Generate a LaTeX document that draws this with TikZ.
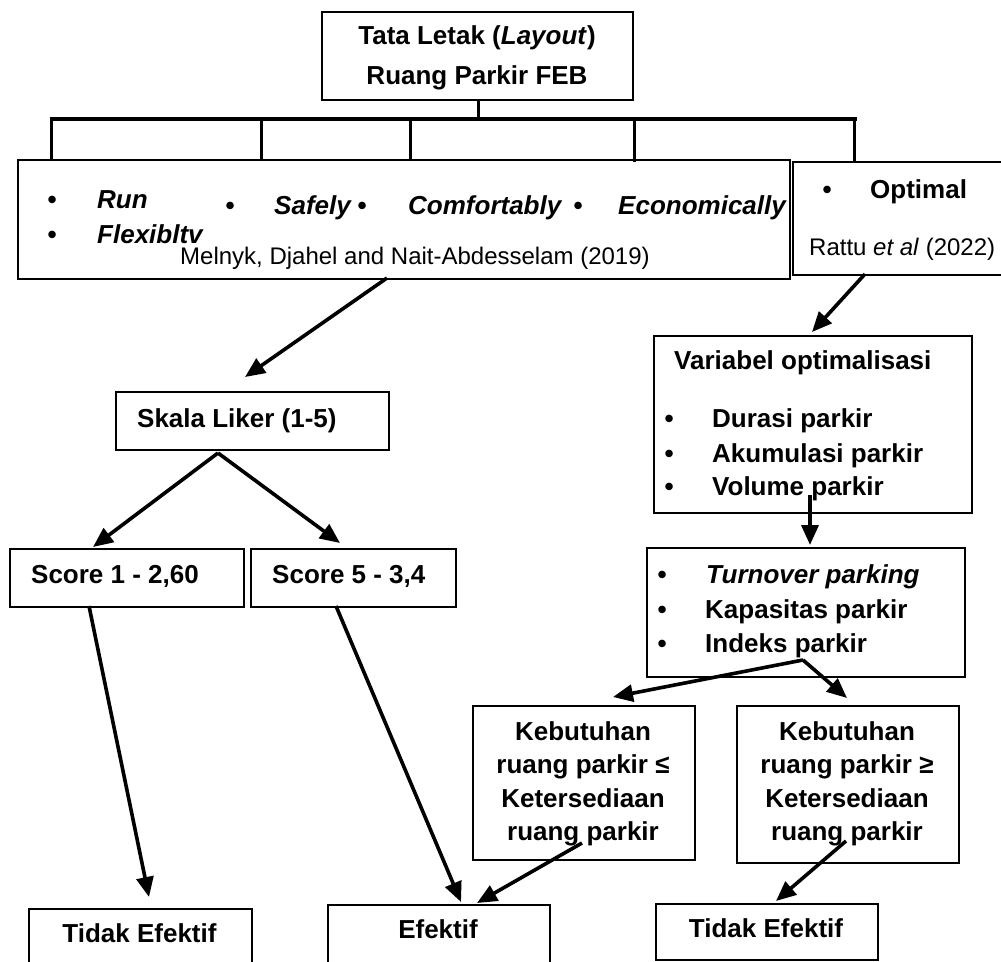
\documentclass[tikz,border=0pt]{standalone}
\usepackage{fontspec}
\setmainfont{Liberation Sans}
\usetikzlibrary{arrows.meta}
\newcommand\Bfnt{\fontsize{26}{30}\selectfont\bfseries}
\newcommand\Rfnt{\fontsize{24}{28}\selectfont}
\begin{document}
\begin{tikzpicture}[x=1pt,y=-1pt,
  box/.style={draw, line width=1.8pt, inner sep=0pt, anchor=north west},
  bt/.style={inner sep=0pt, anchor=base west, font=\Bfnt},
  bc/.style={inner sep=0pt, anchor=base, font=\Bfnt},
  rt/.style={inner sep=0pt, anchor=base west, font=\Rfnt},
  arr/.style={line width=3.6pt, -{Triangle[length=20pt,width=17pt]}},
  tick/.style={line width=3pt},
]
\useasboundingbox (0,0) rectangle (1001,961);
\clip (0,0) rectangle (1001,961);

% boxes
\node[box, minimum width=311pt, minimum height=88pt] (top) at (321,11) {};
\node[box, minimum width=772pt, minimum height=119pt] (big) at (17,159) {};
\node[box, minimum width=215pt, minimum height=113pt] (opt) at (792,161) {};
\node[box, minimum width=273pt, minimum height=58pt] (skala) at (115,391) {};
\node[box, minimum width=234pt, minimum height=58pt] (sa) at (9,548) {};
\node[box, minimum width=205pt, minimum height=58pt] (sb) at (250,548) {};
\node[box, minimum width=318pt, minimum height=177pt] (var) at (653,335) {};
\node[box, minimum width=318pt, minimum height=129pt] (turn) at (646,547) {};
\node[box, minimum width=222pt, minimum height=154pt] (kba) at (472,705) {};
\node[box, minimum width=222pt, minimum height=157pt] (kbb) at (736,705) {};
\node[box, minimum width=223pt, minimum height=70pt] (tea) at (28,908) {};
\node[box, minimum width=222pt, minimum height=70pt] (ef) at (327,904) {};
\node[box, minimum width=222pt, minimum height=56pt] (teb) at (655,903) {};

% top texts
\node[bc] (t1) at (477,44) {Tata Letak (\textit{Layout})};
\node[bc] (t2) at (477,84) {Ruang Parkir FEB};

% tree bar
\coordinate (stemtop) at (478,99);
\coordinate (stembot) at (478,119);
\coordinate (barL) at (49.5,119);
\coordinate (barR) at (856.5,119);
\draw[tick] (stemtop) -- (stembot);
\draw[line width=4.5pt] (barL) -- (barR);
\coordinate (ka) at (51,119);
\coordinate (kb) at (261,119);
\coordinate (kc) at (410,119);
\coordinate (kd) at (634,119);
\coordinate (ke) at (854,119);
\draw[tick] (ka) -- (ka |- big.north);
\draw[tick] (kb) -- (kb |- big.north);
\draw[tick] (kc) -- (kc |- big.north);
\draw[tick] (kd) -- ([yshift=-3pt]kd |- big.north);
\draw[tick] (ke) -- (ke |- opt.north);

% big box texts
\node[bt] (b1) at (47.5,208) {•};
\node[bt] (i1) at (97,208) {\itshape Run};
\node[bt] (b2) at (47.5,243) {•};
\node[bt] (i2) at (97,243) {\itshape Flexibltv};
\node[bt] (b3) at (225.5,214) {•};
\node[bt] (i3) at (274,214) {\itshape Safely};
\node[bt] (b4) at (357.5,214) {•};
\node[bt] (i4) at (408,214) {\itshape Comfortably};
\node[bt] (b5) at (573.5,214) {•};
\node[bt] (i5) at (618,214) {\itshape Economically};
\node[rt] (ref1) at (180,264) {Melnyk, Djahel and Nait-Abdesselam (2019)};

% optimal box
\node[bt] (b6) at (822.5,198) {•};
\node[bt] (i6) at (870,198) {Optimal};
\node[rt] (ref2) at (809,255) {Rattu \textit{et al} (2022)};

% left column texts
\node[bt] (sk) at (137,427) {Skala Liker (1-5)};
\node[bt] (sc1) at (31,583) {Score 1 - 2,60};
\node[bt] (sc2) at (272,583) {Score 5 - 3,4};

% variabel box
\node[bt] (vt) at (674,369) {Variabel optimalisasi};
\node[bt] (vb1) at (664.5,427) {•};
\node[bt] (vi1) at (712,427) {Durasi parkir};
\node[bt] (vb2) at (664.5,462) {•};
\node[bt] (vi2) at (712,462) {Akumulasi parkir};
\node[bt] (vb3) at (664.5,495) {•};
\node[bt] (vi3) at (712,495) {Volume parkir};

% turnover box
\node[bt] (ub1) at (657.5,583) {•};
\node[bt] (ui1) at (706,583) {\itshape Turnover parking};
\node[bt] (ub2) at (657.5,618) {•};
\node[bt] (ui2) at (705,618) {Kapasitas parkir};
\node[bt] (ub3) at (657.5,652) {•};
\node[bt] (ui3) at (705,652) {Indeks parkir};

% kebutuhan boxes
\node[bc] (ka1) at (583,740) {Kebutuhan};
\node[bc] (ka2) at (583,773) {ruang parkir ≤};
\node[bc] (ka3) at (583,807) {Ketersediaan};
\node[bc] (ka4) at (583,840) {ruang parkir};
\node[bc] (kb1) at (847,740) {Kebutuhan};
\node[bc] (kb2) at (847,773) {ruang parkir ≥};
\node[bc] (kb3) at (847,807) {Ketersediaan};
\node[bc] (kb4) at (847,840) {ruang parkir};

% bottom texts
\node[bc] (te1) at (139.5,942) {Tidak Efektif};
\node[bc] (ef1) at (438,938) {Efektif};
\node[bc] (te2) at (766,937) {Tidak Efektif};

% arrow end points
\coordinate (a1s) at (387,278);
\coordinate (a1e) at (245,377);
\coordinate (a2s) at (865,274);
\coordinate (a2e) at (812,332);
\coordinate (apx) at (218,453);
\coordinate (a3e) at (93,547);
\coordinate (a4e) at (340,543);
\coordinate (a5s) at (89,606);
\coordinate (a5e) at (149,897);
\coordinate (a6s) at (336,606);
\coordinate (a6e) at (461,902);
\coordinate (a7s) at (810,495);
\coordinate (a7e) at (810,545);
\coordinate (apy) at (803,660);
\coordinate (a8e) at (613,697);
\coordinate (a9e) at (847,698);
\coordinate (b1s) at (582,843);
\coordinate (b1e) at (477,903);
\coordinate (b2s) at (846,841);
\coordinate (b2e) at (776,901);

\draw[arr] (a1s) -- (a1e);
\draw[arr] (a2s) -- (a2e);
\draw[arr] (apx) -- (a3e);
\draw[arr] (apx) -- (a4e);
\draw[arr] (a5s) -- (a5e);
\draw[arr] (a6s) -- (a6e);
\draw[arr] (a7s) -- (a7e);
\draw[arr] (apy) -- (a8e);
\draw[arr] (apy) -- (a9e);
\draw[arr] (b1s) -- (b1e);
\draw[arr] (b2s) -- (b2e);
\end{tikzpicture}
\end{document}
